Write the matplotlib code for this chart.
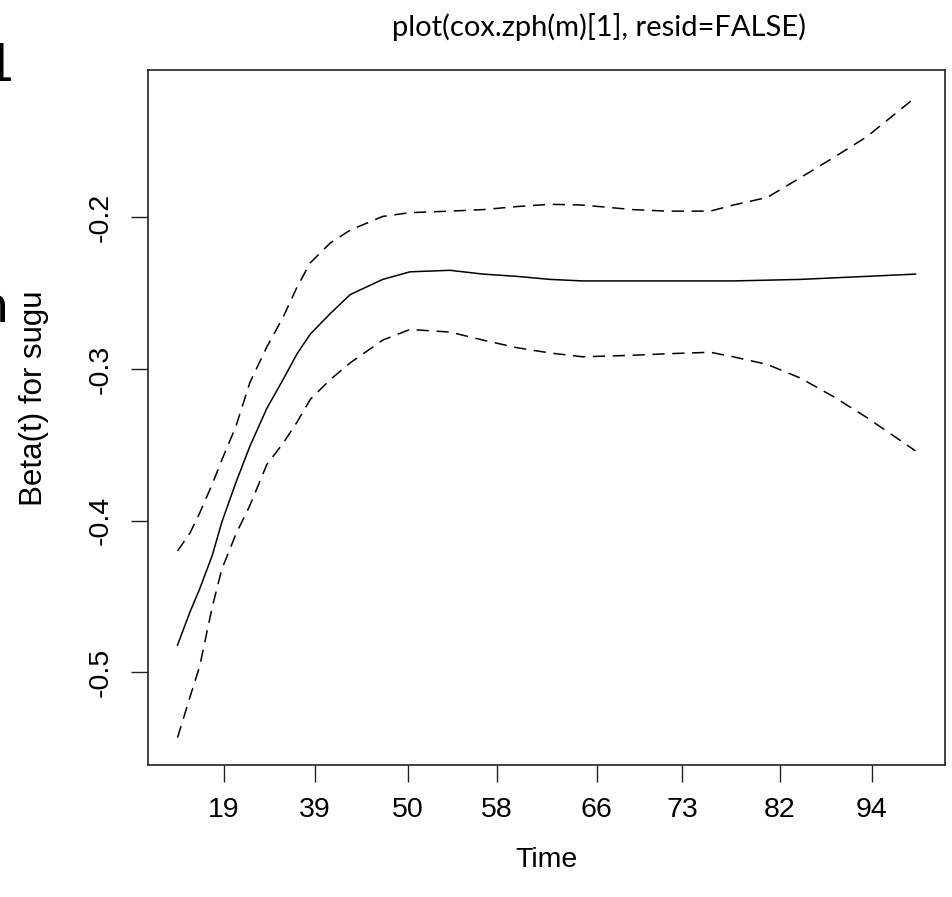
import matplotlib
matplotlib.use("Agg")
import matplotlib.pyplot as plt

# transformed time (0..1 across the fitted range) and the fitted beta(t) with its band
t_grid = [0.0, 0.017, 0.030, 0.047, 0.060, 0.079, 0.098, 0.121, 0.143, 0.162,
          0.180, 0.207, 0.234, 0.278, 0.315, 0.369, 0.414, 0.460, 0.505, 0.549,
          0.617, 0.663, 0.722, 0.753, 0.799, 0.844, 0.888, 0.934, 1.0]
beta_fit = [-0.482, -0.460, -0.445, -0.423, -0.401, -0.375, -0.351, -0.326, -0.307, -0.290,
            -0.277, -0.2635, -0.251, -0.241, -0.236, -0.235, -0.2375, -0.239, -0.241, -0.242,
            -0.242, -0.242, -0.242, -0.242, -0.2415, -0.241, -0.240, -0.239, -0.2375]
beta_upper = [-0.420, -0.408, -0.395, -0.376, -0.360, -0.338, -0.309, -0.2855, -0.266, -0.246,
              -0.230, -0.217, -0.2085, -0.1995, -0.197, -0.196, -0.195, -0.193, -0.1915, -0.192,
              -0.195, -0.196, -0.196, -0.192, -0.187, -0.174, -0.161, -0.147, -0.121]
beta_lower = [-0.543, -0.516, -0.496, -0.457, -0.432, -0.409, -0.390, -0.363, -0.349, -0.335,
              -0.320, -0.307, -0.296, -0.281, -0.274, -0.2757, -0.281, -0.286, -0.2895, -0.292,
              -0.291, -0.290, -0.289, -0.292, -0.297, -0.306, -0.318, -0.332, -0.354]

# where the original time quantiles fall on the transformed axis
time_tick_pos = [0.063, 0.186, 0.312, 0.433, 0.568, 0.684, 0.816, 0.941]
time_tick_labels = ["19", "39", "50", "58", "66", "73", "82", "94"]
beta_ticks = [-0.5, -0.4, -0.3, -0.2]
beta_tick_labels = ["-0.5", "-0.4", "-0.3", "-0.2"]

R_FONT = "Liberation Sans"
SLIDE_FONT = "Lato"

fig = plt.figure(figsize=(9.53, 8.97), dpi=100)
ax = fig.add_axes([148 / 953, 1 - 765 / 897, 797 / 953, 695 / 897])

dash = (0, (8, 5))
ax.plot(t_grid, beta_fit, color="black", lw=1.1)
ax.plot(t_grid, beta_upper, color="black", lw=1.1, linestyle=dash)
ax.plot(t_grid, beta_lower, color="black", lw=1.1, linestyle=dash)

ax.set_xlim(-0.04, 1.04)
ax.set_ylim(-0.561, -0.103)

ax.set_xticks(time_tick_pos, time_tick_labels)
ax.set_yticks(beta_ticks, beta_tick_labels)
for lab in ax.get_xticklabels() + ax.get_yticklabels():
    lab.set_fontfamily(R_FONT)
    lab.set_fontsize(20.5)
for lab in ax.get_yticklabels():
    lab.set_rotation(90)
    lab.set_verticalalignment("center")
ax.tick_params(axis="both", direction="out", length=12, width=1.0, color="#222222")
ax.tick_params(axis="x", pad=11)
ax.tick_params(axis="y", pad=13)
for sp in ax.spines.values():
    sp.set_linewidth(1.2)
    sp.set_color("#222222")

ax.set_xlabel("Time", fontfamily=R_FONT, fontsize=20.5)
ax.set_ylabel("Beta(t) for sugu", fontfamily=R_FONT, fontsize=22.5)
ax.xaxis.set_label_coords(0.5, -(860 - 765) / 695)
ax.xaxis.label.set_verticalalignment("center")
ax.yaxis.set_label_coords(-(148 - 34) / 797, (765 - 398) / 695)
ax.yaxis.label.set_verticalalignment("center")

fig.text(599 / 953, 1 - 36 / 897, "plot(cox.zph(m)[1], resid=FALSE)",
         fontfamily=SLIDE_FONT, fontsize=21, ha="center", va="baseline")

# cut-off slide text at the left edge
fig.text(-16 / 953, 1 - 81 / 897, "1", fontfamily=SLIDE_FONT, fontsize=38, va="baseline")
fig.text(-6 / 953, 1 - 206 / 897, ":", fontfamily=SLIDE_FONT, fontsize=14, va="baseline")
fig.text(-22 / 953, 1 - 322 / 897, "n", fontfamily=SLIDE_FONT, fontsize=38, va="baseline")

fig.savefig("out.png", dpi=100)
